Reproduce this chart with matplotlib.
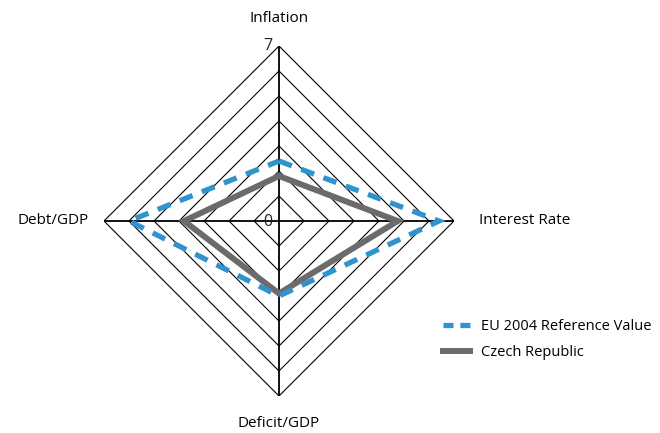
import numpy as np
import matplotlib.pyplot as plt
from matplotlib.lines import Line2D

plt.rcParams['font.family'] = ['Open Sans', 'DejaVu Sans']

# axes go clockwise from the top
categories = ['Inflation', 'Interest Rate', 'Deficit/GDP', 'Debt/GDP']
eu_ref = [2.4, 6.4, 3.0, 6.0]
czech = [1.8, 4.75, 2.9, 3.8]
r_max = 7

blue = '#2f93cd'
grey = '#6b6b6b'

ang = np.pi / 2 - np.arange(len(categories)) * np.pi / 2
ux, uy = np.cos(ang), np.sin(ang)

def closed(vals):
    v = np.append(vals, vals[0])
    return v * np.append(ux, ux[0]), v * np.append(uy, uy[0])

fig = plt.figure(figsize=(6.6, 4.33), dpi=100)
ax = fig.add_axes([104 / 660, 37 / 433, 350 / 660, 350 / 433])
ax.set_xlim(-r_max, r_max)
ax.set_ylim(-r_max, r_max)
ax.axis('off')

# diamond rings
for r in range(1, r_max + 1):
    x, y = closed(np.full(4, r))
    ax.plot(x, y, color='black', lw=0.8, zorder=1)
# spokes
for i in range(4):
    ax.plot([0, r_max * ux[i]], [0, r_max * uy[i]], color='black', lw=1.3, zorder=1)

x, y = closed(np.array(czech))
ax.plot(x, y, color=grey, lw=4.3, solid_joinstyle='miter', zorder=3)
x, y = closed(np.array(eu_ref))
ax.plot(x, y, color=blue, lw=3.8, dashes=(2.6, 1.9), dash_joinstyle='miter', zorder=4)

ax.text(-0.25, r_max, '7', ha='right', va='center', fontsize=11.5, color='#222222')
ax.text(-0.25, -0.05, '0', ha='right', va='center', fontsize=11.5, color='#222222')

fs = 11
ax.text(0, 8.1, categories[0], ha='center', va='center', fontsize=fs, clip_on=False)
ax.text(8.0, 0, categories[1], ha='left', va='center', fontsize=fs, clip_on=False)
ax.text(0, -8.1, categories[2], ha='center', va='center', fontsize=fs, clip_on=False)
ax.text(-7.6, 0, categories[3], ha='right', va='center', fontsize=fs, clip_on=False)

handles = [Line2D([], [], color=blue, lw=3.8, dashes=(1.9, 1.3), dash_capstyle='butt'),
           Line2D([], [], color=grey, lw=4.3)]
fig.legend(handles, ['EU 2004 Reference Value', 'Czech Republic'], loc='upper left',
           bbox_to_anchor=(430 / 660, 1 - 306 / 433), frameon=False, fontsize=fs - 0.5,
           handlelength=1.85, handletextpad=0.75, labelspacing=0.75)

fig.savefig('out.png', dpi=100)
